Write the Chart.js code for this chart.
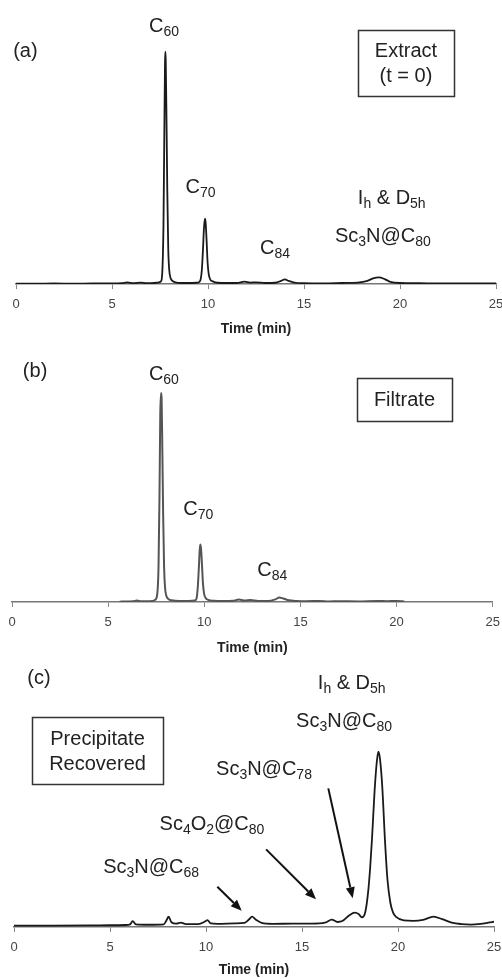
<!DOCTYPE html>
<html><head><meta charset="utf-8">
<script src="https://cdn.jsdelivr.net/npm/chart.js@4"></script>
<style>
html,body{margin:0;padding:0;background:#fff;overflow:hidden;width:502px;height:979px;position:relative;}
canvas{position:absolute;left:0;}
</style></head><body>
<canvas id="ca" width="520" height="340" style="top:0px"></canvas>
<canvas id="cb" width="520" height="320" style="top:340px"></canvas>
<canvas id="cc" width="520" height="319" style="top:660px"></canvas>
<script>
// ---------- data ----------
const xTicks = [0, 5, 10, 15, 20, 25];
const axisTitle = 'Time (min)';

// (a) Extract (t = 0)
const timesA = [0,1,2,3,4,5,5.5,5.8,6.1,6.5,6.8,7.2,7.4,7.55,7.62,7.68,7.72,7.76,7.78,7.80,7.84,7.88,7.93,7.98,8.05,8.15,8.3,8.6,9.0,9.4,9.55,9.62,9.68,9.74,9.79,9.84,9.88,9.93,9.98,10.04,10.12,10.25,10.5,11,11.5,11.9,12.2,12.5,13,13.5,13.8,14.0,14.2,14.5,15,16,17,17.8,18.3,18.6,18.9,19.2,19.5,20,21,22,23,24,25];
const valuesA = [0,0,0.1,0,0.1,0.1,0.2,0.6,0.2,0.5,0.2,0.3,0.5,1,5,25,60,95,100,96,70,40,15,6,2.5,1.2,0.6,0.3,0.3,0.4,0.8,2,6,15,24,28,26,18,9,4,1.8,1,0.4,0.3,0.3,0.9,0.5,0.6,0.3,0.4,1.2,1.9,1.2,0.5,0.2,0.1,0.3,0.5,1.2,2.3,2.7,2,0.8,0.3,0.2,0.1,0.1,0.1,0.1];

// (b) Filtrate
const timesB = [5.6,6.0,6.3,6.5,6.7,7.0,7.3,7.45,7.55,7.62,7.67,7.71,7.75,7.78,7.82,7.86,7.91,7.96,8.03,8.12,8.3,8.7,9.2,9.5,9.6,9.66,9.72,9.76,9.79,9.83,9.88,9.93,9.99,10.07,10.2,10.5,11.0,11.5,11.8,12.1,12.4,12.8,13.3,13.7,13.9,14.1,14.4,14.8,15.3,16.0,16.5,17,18,19,19.5,20,20.4];
const valuesB = [0,0.1,0.2,0.5,0.2,0.2,0.3,0.8,3,15,45,80,90,88,65,38,15,6,2.5,1.2,0.6,0.3,0.3,0.5,1.5,6,15,22,24.7,23,16,8,3.5,1.6,0.8,0.4,0.3,0.4,1.0,0.5,0.7,0.3,0.3,1.0,1.8,1.4,0.6,0.3,0.2,0.3,0.1,0.2,0.1,0.3,0.2,0.3,0.1];

// (c) Precipitate recovered
const timesC = [0,2,4,5,5.8,6.05,6.18,6.35,7,7.8,7.95,8.05,8.2,8.45,8.7,8.95,9.6,9.95,10.07,10.25,10.6,11.5,12.0,12.25,12.4,12.6,12.9,13.5,14.5,15.5,16.2,16.55,16.85,17.1,17.45,17.75,17.95,18.12,18.3,18.45,18.55,18.65,18.78,18.9,18.98,19.06,19.18,19.32,19.45,19.6,19.75,19.9,20.3,20.8,21.3,21.85,22.3,22.8,23.3,23.8,24.3,24.7,25];
const valuesC = [0,0,0.1,0.2,0.3,0.6,2.0,0.6,0.4,0.6,2.5,3.9,1.5,0.9,1.3,0.7,0.7,1.8,2.4,1.0,0.8,1.0,1.2,2.8,3.9,2.6,1.2,0.8,0.9,0.9,1.3,2.6,1.6,2.0,4.4,5.6,5.0,3.6,6,15,25,38,58,71,75,72,60,37,20,10,5.5,3.8,2.3,2.1,2.5,3.9,2.8,1.3,0.7,0.5,0.8,1.3,1.7];

// ---------- annotations ----------
const annA = {
  texts: [['(a)',0.49,97.7],['C_{60}',7.71,108.6],['C_{70}',9.61,39.2],['C_{84}',13.49,12.8],['I_{h} & D_{5h}',19.57,34.4],['Sc_{3}N@C_{80}',19.11,18.1]],
  boxes: [{lines:['Extract','(t = 0)'], t:20.31, v:95.1, w:96, h:66}],
  arrows: []
};
const annB = {
  texts: [['(b)',1.2,96.9],['C_{60}',7.9,95.6],['C_{70}',9.69,37.4],['C_{84}',13.54,11.1]],
  boxes: [{lines:['Filtrate'], t:20.41, v:87.2, w:95, h:43}],
  arrows: []
};
const annC = {
  texts: [['(c)',1.3,104],['I_{h} & D_{5h}',17.59,101.9],['Sc_{3}N@C_{80}',17.19,85.8],['Sc_{3}N@C_{78}',13.02,65],['Sc_{4}O_{2}@C_{80}',10.31,41.2],['Sc_{3}N@C_{68}',7.14,22.6]],
  boxes: [{lines:['Precipitate','Recovered'], t:4.35, v:75.5, w:131, h:67}],
  arrows: [[10.59,16.8,11.86,6.47],[13.13,32.9,15.73,11.4],[16.37,59.2,17.64,11.8]]
};

const FAM = '"Liberation Sans", Arial, sans-serif';
const MAIN = 20, SUB = 14;

function drawRich(ctx, text, x, y) {
  const parts = []; const re = /_\{([^}]*)\}/g; let last = 0, m;
  while ((m = re.exec(text))) { if (m.index > last) parts.push([text.slice(last, m.index), false]); parts.push([m[1], true]); last = re.lastIndex; }
  if (last < text.length) parts.push([text.slice(last), false]);
  let w = 0;
  parts.forEach(p => { ctx.font = (p[1] ? SUB : MAIN) + 'px ' + FAM; p.push(ctx.measureText(p[0]).width); w += p[2]; });
  let cx = x - w / 2;
  ctx.textAlign = 'left'; ctx.textBaseline = 'alphabetic';
  parts.forEach(p => { ctx.font = (p[1] ? SUB : MAIN) + 'px ' + FAM; ctx.fillText(p[0], cx, y + (p[1] ? 4 : 0)); cx += p[2]; });
}

const annPlugin = {
  id: 'ann',
  afterDatasetsDraw(chart, args, opts) {
    const a = opts.ann; if (!a) return;
    const ctx = chart.ctx, xs = chart.scales.x, ys = chart.scales.y;
    ctx.save();
    ctx.fillStyle = '#222';
    a.texts.forEach(([t, x, v]) => drawRich(ctx, t, xs.getPixelForValue(x), ys.getPixelForValue(v)));
    a.boxes.forEach(b => {
      const cx = xs.getPixelForValue(b.t), cy = ys.getPixelForValue(b.v);
      ctx.strokeStyle = '#333'; ctx.lineWidth = 1.5;
      ctx.strokeRect(Math.round(cx - b.w / 2) + 0.5, Math.round(cy - b.h / 2) + 0.5, b.w, b.h);
      ctx.font = MAIN + 'px ' + FAM; ctx.textAlign = 'center'; ctx.textBaseline = 'middle';
      const n = b.lines.length, lh = 25;
      b.lines.forEach((l, i) => ctx.fillText(l, cx, cy + 1 + (i - (n - 1) / 2) * lh));
    });
    ctx.strokeStyle = '#111'; ctx.fillStyle = '#111'; ctx.lineWidth = 2;
    a.arrows.forEach(([t1, v1, t2, v2]) => {
      const x1 = xs.getPixelForValue(t1), y1 = ys.getPixelForValue(v1);
      const x2 = xs.getPixelForValue(t2), y2 = ys.getPixelForValue(v2);
      const ang = Math.atan2(y2 - y1, x2 - x1), L = 11, W = 4.5;
      const bx = x2 - L * Math.cos(ang), by = y2 - L * Math.sin(ang);
      ctx.beginPath(); ctx.moveTo(x1, y1); ctx.lineTo(bx, by); ctx.stroke();
      ctx.beginPath(); ctx.moveTo(x2, y2);
      ctx.lineTo(bx + W * Math.sin(ang), by - W * Math.cos(ang));
      ctx.lineTo(bx - W * Math.sin(ang), by + W * Math.cos(ang));
      ctx.closePath(); ctx.fill();
    });
    ctx.restore();
  }
};

function makeChart(id, times, values, cfg) {
  new Chart(document.getElementById(id), {
    type: 'line',
    data: { datasets: [{ data: times.map((t, i) => ({ x: t, y: values[i] })), borderColor: cfg.color, borderWidth: cfg.lw, pointRadius: 0, fill: false, cubicInterpolationMode: 'monotone' }] },
    options: {
      responsive: false, animation: false, events: [],
      layout: { padding: { left: cfg.left, right: 520 - cfg.right, top: cfg.top, bottom: 0 } },
      plugins: { legend: { display: false }, tooltip: { enabled: false }, ann: { ann: cfg.ann } },
      scales: {
        x: {
          type: 'linear', min: 0, max: 25,
          afterBuildTicks: s => { s.ticks = xTicks.map(v => ({ value: v })); },
          afterFit: s => { s.height = cfg.scaleH; },
          ticks: { font: { size: 13, family: FAM }, color: '#444', padding: 8, maxRotation: 0, autoSkip: false },
          grid: { display: true, drawOnChartArea: false, drawTicks: true, tickLength: 5, color: '#888', lineWidth: 1 },
          border: { display: true, color: '#777', width: 1.5 },
          title: { display: true, text: axisTitle, font: { size: 14, weight: 'bold', family: FAM }, color: '#222', padding: { top: 2, bottom: cfg.titlePad } }
        },
        y: { display: false, min: cfg.ymin, max: cfg.ymax }
      }
    },
    plugins: [annPlugin]
  });
}

makeChart('ca', timesA, valuesA, { color: '#1a1a1a', lw: 1.8, left: 16, right: 496, top: 40, scaleH: 56, titlePad: 2.6, ymin: -0.13, ymax: 105.04, ann: annA });
makeChart('cb', timesB, valuesB, { color: '#555', lw: 2, left: 12, right: 492.7, top: 40, scaleH: 58, titlePad: 3.6, ymin: -0.13, ymax: 95.56, ann: annB });
makeChart('cc', timesC, valuesC, { color: '#1a1a1a', lw: 1.8, left: 14, right: 494, top: 40, scaleH: 52, titlePad: 0.6, ymin: -0.56, ymax: 97.28, ann: annC });
</script>
</body></html>
